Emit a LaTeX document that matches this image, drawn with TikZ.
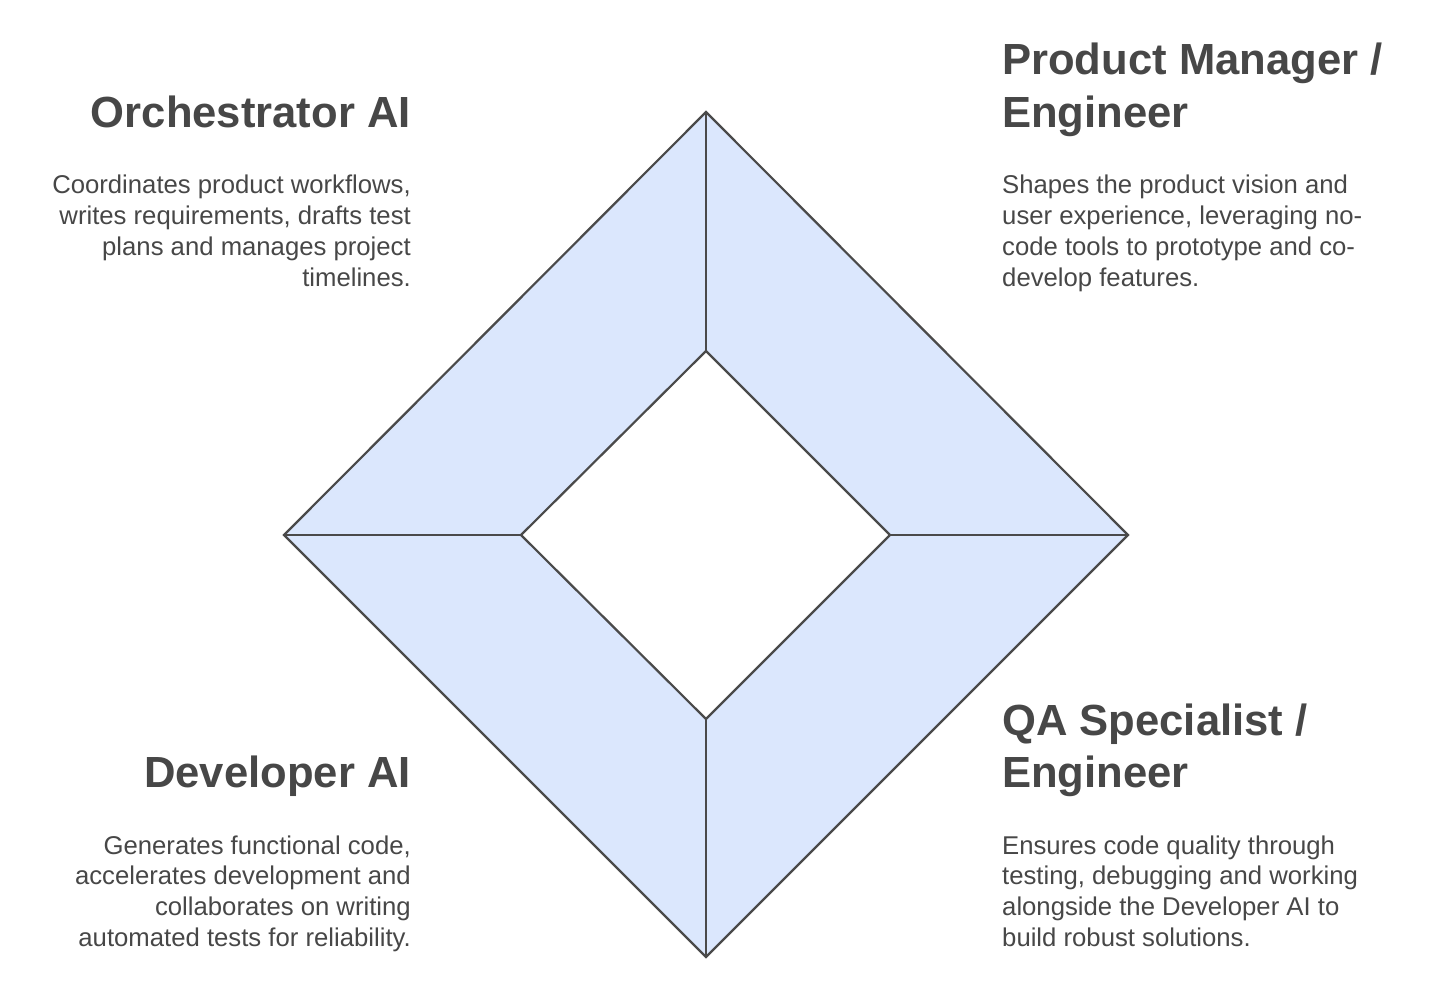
\documentclass[tikz,border=0pt]{standalone}
\usepackage{fontspec}
\setmainfont{Liberation Sans}
\definecolor{fillblue}{HTML}{DBE7FD}
\definecolor{edge}{HTML}{4A4A4A}
\definecolor{txt}{HTML}{474747}
\tikzset{
  ring/.style={draw=edge, line width=2.2pt, line join=miter},
  head/.style={inner sep=0pt, text=txt, font=\fontsize{43.6}{52.3}\selectfont\bfseries},
  body/.style={inner sep=0pt, text=txt, font=\fontsize{25.7}{30.8}\selectfont},
  hr/.style={anchor=base east},
  hl/.style={anchor=base west}
}
\begin{document}
\begin{tikzpicture}[x=1pt,y=-1pt]
\useasboundingbox (0,0) rectangle (1447,1000);
% outer and inner diamonds
\coordinate (OT) at (706,112);
\coordinate (OR) at (1128,535);
\coordinate (OB) at (706,957);
\coordinate (OL) at (284,535);
\coordinate (IT) at (706,351);
\coordinate (IR) at (890,535);
\coordinate (IB) at (706,719);
\coordinate (IL) at (521,535);
\fill[fillblue, even odd rule] (OT) -- (OR) -- (OB) -- (OL) -- cycle (IT) -- (IR) -- (IB) -- (IL) -- cycle;
\draw[ring] (OT) -- (OR) -- (OB) -- (OL) -- cycle;
\draw[ring] (IT) -- (IR) -- (IB) -- (IL) -- cycle;
\draw[ring] (OT) -- (IT);
\draw[ring] (OR) -- (IR);
\draw[ring] (OB) -- (IB);
\draw[ring] (OL) -- (IL);
% Orchestrator AI
\node[head,hr] (oh) at (411,127.5) {Orchestrator AI};
\node[body,hr] (o1) at (411,194) {Coordinates product workflows,};
\node[body,hr] (o2) at (411,224.7) {writes requirements, drafts test};
\node[body,hr] (o3) at (411,255.4) {plans and manages project};
\node[body,hr] (o4) at (411,286.1) {timelines.};
% Product Manager
\node[head,hl] (ph1) at (1002,75) {Product Manager /};
\node[head,hl] (ph2) at (1002,127.5) {Engineer};
\node[body,hl] (p1) at (1002,194) {Shapes the product vision and};
\node[body,hl] (p2) at (1002,224.7) {user experience, leveraging no-};
\node[body,hl] (p3) at (1002,255.4) {code tools to prototype and co-};
\node[body,hl] (p4) at (1002,286.1) {develop features.};
% Developer AI
\node[head,hr] (dh) at (411,787.5) {Developer AI};
\node[body,hr] (d1) at (411,854) {Generates functional code,};
\node[body,hr] (d2) at (411,884.7) {accelerates development and};
\node[body,hr] (d3) at (411,915.4) {collaborates on writing};
\node[body,hr] (d4) at (411,946.1) {automated tests for reliability.};
% QA Specialist
\node[head,hl] (qh1) at (1002,735) {QA Specialist /};
\node[head,hl] (qh2) at (1002,787.5) {Engineer};
\node[body,hl] (q1) at (1002,854) {Ensures code quality through};
\node[body,hl] (q2) at (1002,884.7) {testing, debugging and working};
\node[body,hl] (q3) at (1002,915.4) {alongside the Developer AI to};
\node[body,hl] (q4) at (1002,946.1) {build robust solutions.};
\end{tikzpicture}
\end{document}
